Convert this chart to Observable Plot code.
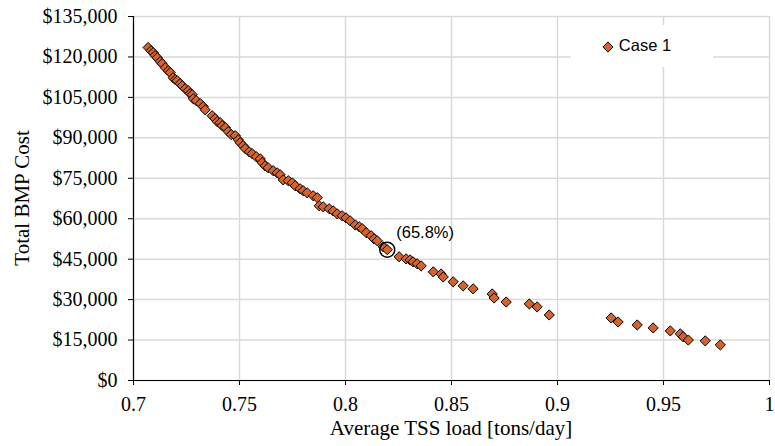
<!DOCTYPE html>
<html><head><meta charset="utf-8">
<script src="https://cdn.jsdelivr.net/npm/d3@7"></script>
<script src="https://cdn.jsdelivr.net/npm/@observablehq/plot@0.6"></script>
<style>html,body{margin:0;padding:0;background:#fff}svg{display:block}</style>
</head><body><div id="chart"></div>
<script>
// Average TSS load [tons/day] for each solution of Case 1
const tssLoad = [
  0.7069,0.7083,0.7093,0.7102,0.7112,0.7126,0.7135,0.7150,0.7164,0.7173,
  0.7187,0.7197,0.7206,0.7220,0.7230,0.7244,0.7258,0.7267,0.7277,0.7282,
  0.7296,0.7315,0.7329,0.7338,0.7371,0.7385,0.7395,0.7409,0.7418,0.7433,
  0.7447,0.7461,0.7480,0.7494,0.7503,0.7517,0.7527,0.7546,0.7560,0.7579,
  0.7598,0.7607,0.7621,0.7635,0.7659,0.7678,0.7692,0.7706,0.7730,0.7749,
  0.7763,0.7786,0.7800,0.7819,0.7848,0.7867,0.7876,0.7895,0.7923,0.7942,
  0.7961,0.7984,0.8003,0.8022,0.8046,0.8065,0.8079,0.8098,0.8121,0.8135,
  0.8150,0.8178,0.8197,0.8253,0.8286,0.8305,0.8319,0.8338,0.8357,0.8414,
  0.8451,0.8461,0.8508,0.8555,0.8602,0.8692,0.8701,0.8758,0.8867,0.8904,
  0.8961,0.9253,0.9286,0.9376,0.9451,0.9532,0.9579,0.9593,0.9617,0.9697,
  0.9768
];
// Total BMP cost [$] for each solution of Case 1
const bmpCost = [
  123500,122300,121600,120500,119700,118300,117500,116000,114900,114200,
  112300,111600,111200,110100,109300,108200,107500,106400,106000,104500,
  103800,102700,101600,100400,98200,97100,96000,95600,94500,93800,
  92300,91200,90800,89300,88200,87100,86000,84800,84100,83000,
  82200,80800,79600,78900,77800,77000,76300,74400,74100,73300,
  72200,71100,70400,69600,68500,67800,64800,64400,63700,62900,
  61800,61100,60300,59200,57700,57000,56300,54800,53700,52500,
  51800,49600,48500,45900,45100,44700,44000,43300,42500,40300,
  39500,38400,36600,35100,34000,32100,30600,29100,28400,27300,
  24300,23200,21700,20600,19500,18400,17300,16200,15000,14700,
  13200
];
const seriesName = "Case 1";
const highlightIndex = 72;          // circled solution
const highlightLabel = "(65.8%)";
const xTicks = [0.7, 0.75, 0.8, 0.85, 0.9, 0.95, 1];
const xTickLabels = ["0.7", "0.75", "0.8", "0.85", "0.9", "0.95", "1"];
const yTicks = [0, 15000, 30000, 45000, 60000, 75000, 90000, 105000, 120000, 135000];
const yTickLabels = ["$0", "$15,000", "$30,000", "$45,000", "$60,000", "$75,000", "$90,000", "$105,000", "$120,000", "$135,000"];
const xTitle = "Average TSS load [tons/day]";
const yTitle = "Total BMP Cost";

const data = tssLoad.map((x, i) => ({load: x, cost: bmpCost[i]}));
const highlight = [data[highlightIndex]];

const serif = "'Liberation Serif','Times New Roman',Times,serif";
const sans = "'Liberation Sans',Arial,Helvetica,sans-serif";
const markerFill = "#d4642f";
const gridColor = "#d9d9d9";
const W = 775, H = 446;
const mL = 133, mR = 6, mT = 16, mB = 66;

const chart = Plot.plot({
  width: W, height: H,
  marginLeft: mL, marginRight: mR, marginTop: mT, marginBottom: mB,
  style: {fontFamily: serif, fontSize: "20px", background: "#fff", color: "#000", overflow: "visible"},
  x: {domain: [0.7, 1], label: null},
  y: {domain: [0, 135000], label: null},
  marks: [
    Plot.gridX(xTicks, {stroke: gridColor, strokeOpacity: 1, strokeWidth: 1.5}),
    Plot.gridY(yTicks, {stroke: gridColor, strokeOpacity: 1, strokeWidth: 1.5}),
    Plot.axisX(xTicks, {tickSize: 5, tickPadding: 11, tickFormat: d => xTickLabels[xTicks.indexOf(d)], fontSize: 20}),
    Plot.axisY(yTicks, {tickSize: 5, tickPadding: 11, tickFormat: d => yTickLabels[yTicks.indexOf(d)], fontSize: 20}),
    Plot.ruleY([0], {stroke: "#000", strokeWidth: 1.2}),
    Plot.ruleX([0.7], {stroke: "#000", strokeWidth: 1.2}),
    Plot.dot(data, {x: "load", y: "cost", symbol: "diamond2", r: 4.6, fill: markerFill, stroke: "#000", strokeWidth: 1}),
    Plot.dot(highlight, {x: "load", y: "cost", r: 7.5, fill: "none", stroke: "#000", strokeWidth: 1.5}),
    Plot.text(highlight, {x: "load", y: "cost", text: () => highlightLabel, dx: 9, dy: -17, textAnchor: "start", fontFamily: sans, fontSize: 16.5, fill: "#000"})
  ]
});

const svg = d3.select(chart);
// axis titles
svg.append("text")
  .attr("x", (mL + W - mR) / 2).attr("y", 430)
  .attr("text-anchor", "middle").attr("dominant-baseline", "middle")
  .style("font-family", serif).style("font-size", "21px").attr("fill", "#000")
  .text(xTitle);
svg.append("text")
  .attr("transform", `translate(24,${(mT + H - mB) / 2}) rotate(-90)`)
  .attr("text-anchor", "middle").attr("dominant-baseline", "middle")
  .style("font-family", serif).style("font-size", "21px").attr("fill", "#000")
  .text(yTitle);
// legend box
const lg = svg.append("g").attr("transform", "translate(571,25)");
lg.append("rect").attr("width", 142).attr("height", 42).attr("fill", "#fff");
lg.append("path")
  .attr("transform", "translate(37,22)")
  .attr("d", d3.symbol(d3.symbolDiamond2, Math.PI * 4.6 * 4.6)())
  .attr("fill", markerFill).attr("stroke", "#000").attr("stroke-width", 1);
lg.append("text")
  .attr("x", 74).attr("y", 22).attr("dominant-baseline", "middle")
  .style("font-family", sans).style("font-size", "16.5px").attr("fill", "#000")
  .text(seriesName);

document.getElementById("chart").appendChild(chart);
</script>
</body></html>
